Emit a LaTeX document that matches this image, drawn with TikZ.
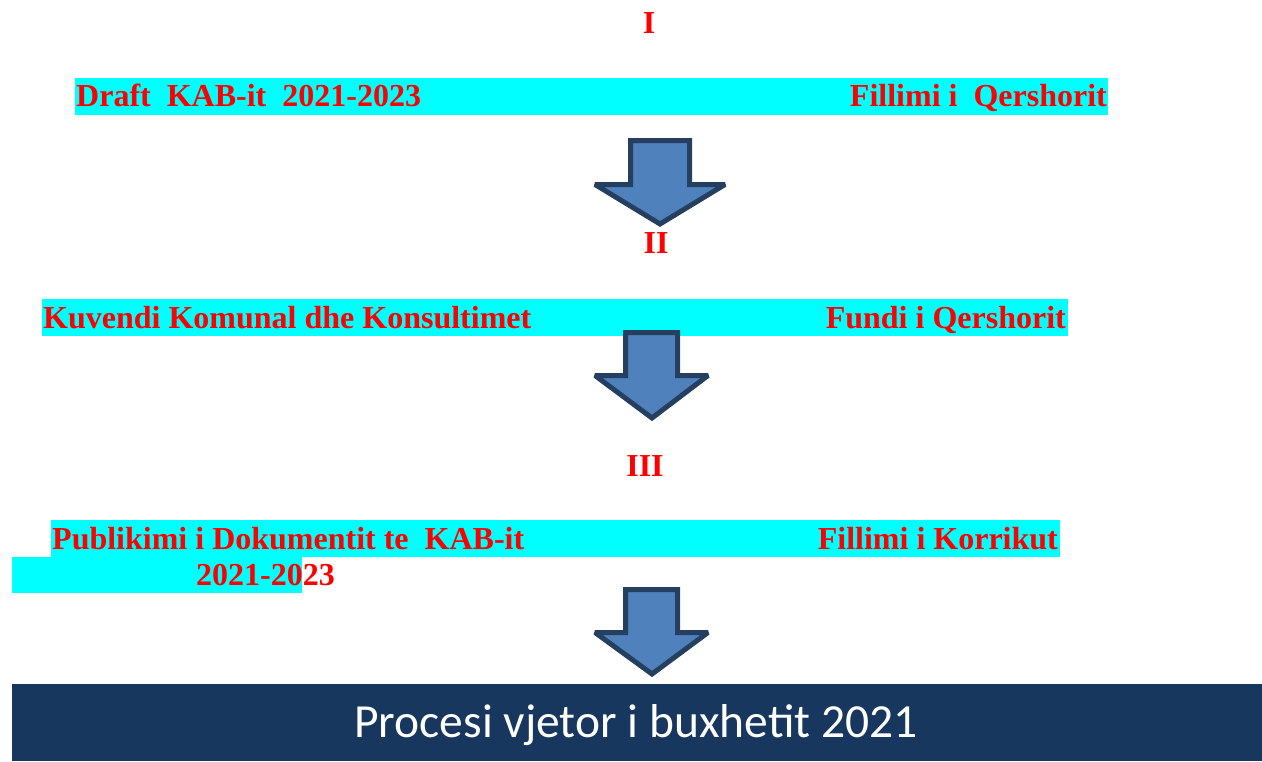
\documentclass[tikz,border=0pt]{standalone}
\usepackage{fontspec}
\setmainfont{Liberation Serif}
\newfontfamily\barfont{Carlito}
\definecolor{bandcyan}{RGB}{0,255,255}
\definecolor{arrowfill}{RGB}{79,129,189}
\definecolor{arrowline}{RGB}{36,63,96}
\definecolor{barnavy}{RGB}{23,55,94}
\begin{document}
\begin{tikzpicture}[x=1pt,y=-1pt,
  band/.style={fill=bandcyan,draw=none},
  lbl/.style={inner sep=0pt,text=red,font=\fontsize{32}{38}\selectfont\bfseries},
  bigarrow/.style={fill=arrowfill,draw=arrowline,line width=5pt,line join=miter,miter limit=2},
  bartext/.style={inner sep=0pt,text=white,font=\barfont\fontsize{47.5}{56}\selectfont}]
\useasboundingbox (0,0) rectangle (1262,761);
% bands
\fill[band] (75,78) rectangle (1108,115);
\fill[band] (42,299) rectangle (1068,336);
\fill[band] (51,520) rectangle (1060,557);
\fill[band] (12,557) rectangle (302,593);
% roman numerals
\node[lbl,anchor=base] (n1) at (649,33) {I};
\node[lbl,anchor=base] (n2) at (656,253) {II};
\node[lbl,anchor=base] (n3) at (645,476) {III};
% stage texts
\node[lbl,anchor=base west] (s1a) at (76,106) {Draft\ \ KAB-it\ \ 2021-2023};
\node[lbl,anchor=base east] (s1b) at (1107,106) {Fillimi i\ \ Qershorit};
\node[lbl,anchor=base west] (s2a) at (43,328) {Kuvendi Komunal dhe Konsultimet};
\node[lbl,anchor=base east] (s2b) at (1066,328) {Fundi i Qershorit};
\node[lbl,anchor=base west] (s3a) at (52,549) {Publikimi i Dokumentit te\ \ KAB-it};
\node[lbl,anchor=base west] (s3c) at (196,585) {2021-2023};
\node[lbl,anchor=base east] (s3b) at (1058,549) {Fillimi i Korrikut};
% arrows
\draw[bigarrow] (630.5,140.5) -- (689.5,140.5) -- (689.5,184.5) -- (725,184.5) -- (660,224) -- (595,184.5) -- (630.5,184.5) -- cycle;
\draw[bigarrow] (625.5,332.5) -- (677.5,332.5) -- (677.5,375.5) -- (708,375.5) -- (652,418) -- (595,375.5) -- (625.5,375.5) -- cycle;
\draw[bigarrow] (625.5,589.5) -- (677.5,589.5) -- (677.5,632.5) -- (708,632.5) -- (652,674) -- (595,632.5) -- (625.5,632.5) -- cycle;
% bottom bar
\fill[barnavy] (12,684) rectangle (1262,761);
\node[bartext,anchor=base] (bar) at (636,737) {Procesi vjetor i buxhetit 2021};
\end{tikzpicture}
\end{document}
